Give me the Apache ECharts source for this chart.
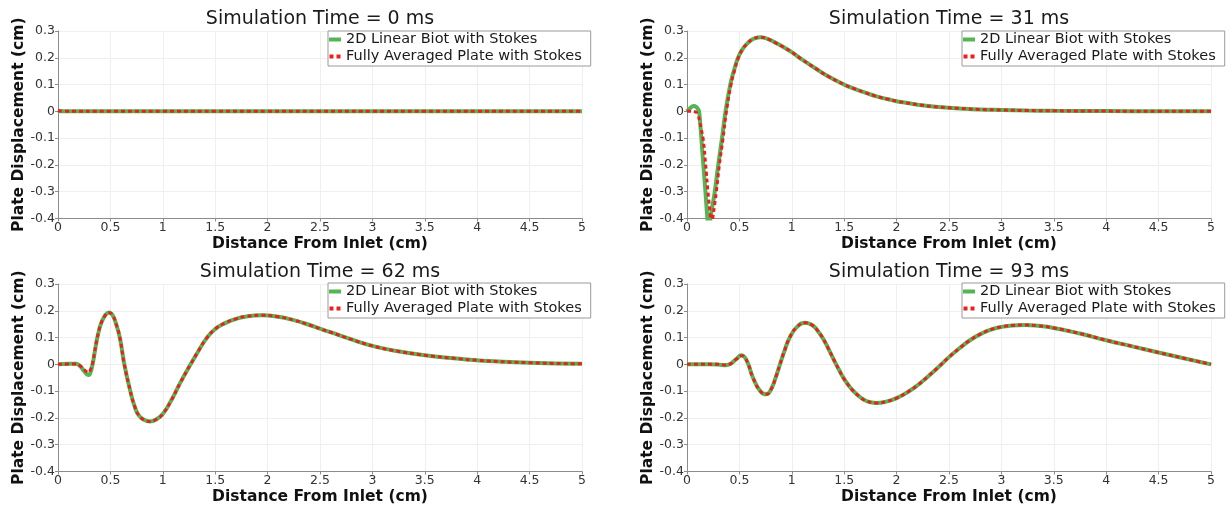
<!DOCTYPE html>
<html>
<head>
<meta charset="utf-8">
<script src="https://cdn.jsdelivr.net/npm/echarts@6/dist/echarts.min.js"></script>
<style>
  html, body { margin: 0; padding: 0; background: #ffffff; }
  #chart { width: 1232px; height: 508px; }
</style>
</head>
<body>
<div id="chart"></div>
<script>
// Plate displacement along the channel at four snapshots, two models compared.
const seriesNames = ['2D Linear Biot with Stokes', 'Fully Averaged Plate with Stokes'];
const panelTitles = ['Simulation Time = 0 ms', 'Simulation Time = 31 ms',
                     'Simulation Time = 62 ms', 'Simulation Time = 93 ms'];
const xTicks = [0, 0.5, 1, 1.5, 2, 2.5, 3, 3.5, 4, 4.5, 5];
const yTicks = [-0.4, -0.3, -0.2, -0.1, 0, 0.1, 0.2, 0.3];

// t = 0 ms
const x0 = [0, 0.05, 0.5, 1, 1.5, 2, 2.5, 3, 3.5, 4, 4.5, 5];
const biot0 = [0.002, 0, 0, 0, 0, 0, 0, 0, 0, 0, 0, 0];
const plate0 = [0.004, 0, 0, 0, 0, 0, 0, 0, 0, 0, 0, 0];

// t = 31 ms
const x31Biot = [0, 0.03, 0.064, 0.09, 0.105, 0.115, 0.126, 0.137, 0.156, 0.176, 0.195, 0.207,
                 0.215, 0.223, 0.244, 0.265, 0.298, 0.334, 0.368, 0.413, 0.45, 0.487, 0.53, 0.567,
                 0.63, 0.7, 0.79, 0.85, 0.92, 1.0, 1.1, 1.235, 1.35, 1.5, 1.6, 1.7, 1.8, 1.92,
                 2.0, 2.2, 2.4, 2.6, 2.8, 3.0, 3.25, 3.5, 4.0, 4.5, 5.0];
const biot31 = [0, 0.012, 0.02, 0.016, 0.008, 0, -0.045, -0.1, -0.2, -0.3, -0.4, -0.43,
                -0.43, -0.4, -0.35, -0.3, -0.2, -0.1, 0, 0.1, 0.155, 0.2, 0.232, 0.25,
                0.27, 0.277, 0.267, 0.255, 0.24, 0.221, 0.193, 0.158, 0.13, 0.1, 0.084, 0.07, 0.057, 0.045,
                0.038, 0.025, 0.016, 0.011, 0.007, 0.005, 0.003, 0.002, 0.001, 0, 0];
const x31Plate = [0, 0.04, 0.08, 0.1, 0.12, 0.135, 0.153, 0.178, 0.2, 0.226, 0.235, 0.245,
                  0.263, 0.28, 0.309, 0.344, 0.376, 0.42, 0.455, 0.49, 0.53, 0.567,
                  0.63, 0.7, 0.79, 0.85, 0.92, 1.0, 1.1, 1.235, 1.35, 1.5, 1.6, 1.7, 1.8, 1.92,
                  2.0, 2.2, 2.4, 2.6, 2.8, 3.0, 3.25, 3.5, 4.0, 4.5, 5.0];
const plate31 = [0, 0, -0.002, -0.01, -0.035, -0.065, -0.1, -0.2, -0.3, -0.4, -0.43, -0.4,
                 -0.35, -0.3, -0.2, -0.1, 0, 0.1, 0.155, 0.2, 0.232, 0.25,
                 0.27, 0.277, 0.267, 0.255, 0.24, 0.221, 0.193, 0.158, 0.13, 0.1, 0.084, 0.07, 0.057, 0.045,
                 0.038, 0.025, 0.016, 0.011, 0.007, 0.005, 0.003, 0.002, 0.001, 0, 0];

// t = 62 ms
const x62 = [0, 0.1, 0.17, 0.21, 0.25, 0.275, 0.293, 0.31, 0.33, 0.35, 0.37, 0.39, 0.41, 0.45,
             0.487, 0.52, 0.555, 0.59, 0.633, 0.69, 0.73, 0.77, 0.82, 0.878, 0.94, 1.0, 1.08,
             1.165, 1.265, 1.34, 1.415, 1.5, 1.6, 1.7, 1.8, 1.94, 2.1, 2.25, 2.4, 2.5, 2.6,
             2.8, 3.0, 3.2, 3.5, 3.8, 4.0, 4.5, 5.0];
const biot62 = [0, 0.002, 0.002, -0.006, -0.026, -0.037, -0.04, -0.03, 0, 0.045, 0.09, 0.125, 0.152, 0.183,
                0.194, 0.184, 0.15, 0.1, 0, -0.1, -0.155, -0.19, -0.207, -0.213, -0.205, -0.185, -0.135,
                -0.07, 0, 0.05, 0.096, 0.132, 0.155, 0.17, 0.179, 0.183, 0.178, 0.165, 0.147, 0.133, 0.12,
                0.093, 0.069, 0.052, 0.034, 0.022, 0.015, 0.006, 0.002];
const plate62 = [0, 0.001, 0.001, -0.005, -0.02, -0.028, -0.03, -0.02, 0.004, 0.047, 0.09, 0.125, 0.152, 0.183,
                 0.193, 0.184, 0.15, 0.1, 0, -0.1, -0.155, -0.19, -0.207, -0.213, -0.205, -0.185, -0.135,
                 -0.07, 0, 0.05, 0.096, 0.132, 0.155, 0.17, 0.179, 0.183, 0.178, 0.165, 0.147, 0.133, 0.12,
                 0.093, 0.069, 0.052, 0.034, 0.022, 0.015, 0.006, 0.002];

// t = 93 ms
const x93 = [0, 0.2, 0.3, 0.37, 0.42, 0.47, 0.522, 0.55, 0.585, 0.63, 0.7, 0.755, 0.8, 0.85,
             0.887, 0.93, 0.98, 1.05, 1.13, 1.2, 1.25, 1.3, 1.35, 1.4, 1.45, 1.5, 1.57, 1.65,
             1.72, 1.805, 1.9, 2.0, 2.1, 2.2, 2.3, 2.4, 2.5, 2.6, 2.7, 2.8, 2.9, 3.0, 3.1, 3.22,
             3.35, 3.5, 3.75, 4.0, 4.25, 4.5, 4.75, 5.0];
const biot93 = [0, 0, -0.001, -0.003, 0.003, 0.02, 0.034, 0.027, 0, -0.05, -0.1, -0.112, -0.095, -0.045,
                0, 0.05, 0.1, 0.14, 0.155, 0.145, 0.124, 0.095, 0.058, 0.018, -0.02, -0.055, -0.092, -0.122,
                -0.138, -0.144, -0.139, -0.126, -0.105, -0.078, -0.045, -0.01, 0.027, 0.06, 0.09, 0.113, 0.13, 0.14, 0.145, 0.147,
                0.144, 0.136, 0.115, 0.09, 0.067, 0.044, 0.022, 0];
const plate93 = [0, 0, 0, -0.002, 0.003, 0.019, 0.032, 0.026, 0, -0.05, -0.1, -0.112, -0.095, -0.045,
                 0, 0.05, 0.1, 0.14, 0.155, 0.145, 0.124, 0.095, 0.058, 0.018, -0.02, -0.055, -0.092, -0.122,
                 -0.138, -0.144, -0.139, -0.126, -0.105, -0.078, -0.045, -0.01, 0.027, 0.06, 0.09, 0.113, 0.13, 0.14, 0.145, 0.147,
                 0.144, 0.136, 0.115, 0.09, 0.067, 0.044, 0.022, 0];

const pair = (xs, ys) => xs.map((x, i) => [x, ys[i]]);

const panels = [
  { biot: pair(x0, biot0), plate: pair(x0, plate0) },
  { biot: pair(x31Biot, biot31), plate: pair(x31Plate, plate31) },
  { biot: pair(x62, biot62), plate: pair(x62, plate62) },
  { biot: pair(x93, biot93), plate: pair(x93, plate93) }
];

const FONT = 'DejaVu Sans';
const GREEN = '#55b553';
const RED = '#ec1f1f';
const plotLeft = [58, 687];
const plotTop = [31, 284];
const legendLeft = [328, 962];
const legendTop = [31, 283];

const grid = [], xAxis = [], yAxis = [], series = [], title = [], legend = [];

panels.forEach((p, i) => {
  const col = i % 2, row = Math.floor(i / 2);
  grid.push({ left: plotLeft[col], top: plotTop[row], width: 524, height: 187.5 });
  title.push({
    text: panelTitles[i], left: plotLeft[col] + 262, top: plotTop[row] - 21, textAlign: 'center', padding: 0,
    textStyle: { fontFamily: FONT, fontSize: 19, fontWeight: 'normal', color: '#1a1a1a' }
  });
  xAxis.push({
    type: 'value', gridIndex: i, min: xTicks[0], max: xTicks[xTicks.length - 1],
    interval: xTicks[1] - xTicks[0],
    name: 'Distance From Inlet (cm)', nameLocation: 'middle', nameGap: 17,
    nameTextStyle: { fontFamily: FONT, fontSize: 15.5, fontWeight: 'bold', color: '#111' },
    axisLine: { show: true, onZero: false, lineStyle: { color: '#8c8c8c', width: 1 } },
    axisTick: { show: true, length: 3, lineStyle: { color: '#8c8c8c' } },
    axisLabel: { fontFamily: FONT, fontSize: 12.5, color: '#333', margin: 3 },
    splitLine: { show: true, lineStyle: { color: '#efefef', width: 1 } }
  });
  yAxis.push({
    type: 'value', gridIndex: i, min: yTicks[0], max: yTicks[yTicks.length - 1],
    interval: 0.1,
    name: 'Plate Displacement (cm)', nameLocation: 'middle', nameGap: 31,
    nameTextStyle: { fontFamily: FONT, fontSize: 15.5, fontWeight: 'bold', color: '#111' },
    axisLine: { show: true, onZero: false, lineStyle: { color: '#8c8c8c', width: 1 } },
    axisTick: { show: true, length: 3, lineStyle: { color: '#8c8c8c' } },
    axisLabel: { fontFamily: FONT, fontSize: 12.5, color: '#333', margin: 3 },
    splitLine: { show: true, lineStyle: { color: '#efefef', width: 1 } }
  });
  series.push({
    name: seriesNames[0], type: 'line', xAxisIndex: i, yAxisIndex: i, data: p.biot,
    showSymbol: false, symbol: 'none', smooth: 0.5, clip: true, color: GREEN,
    lineStyle: { color: GREEN, width: 4 }, itemStyle: { color: GREEN }, z: 2
  });
  series.push({
    name: seriesNames[1], type: 'line', xAxisIndex: i, yAxisIndex: i, data: p.plate,
    showSymbol: false, symbol: 'none', smooth: 0.5, clip: true, color: RED,
    lineStyle: { color: RED, width: 3, type: [4, 3], cap: 'butt' }, itemStyle: { color: RED }, z: 3
  });
  legend.push({
    left: legendLeft[col], top: legendTop[row], orient: 'vertical',
    padding: [1, 9, 2, 1], itemGap: 2, itemWidth: 12, itemHeight: 4, itemTextGap: 1,
    backgroundColor: '#ffffff', borderColor: '#9a9a9a', borderWidth: 1, borderRadius: 0,
    selectedMode: false,
    textStyle: { fontFamily: FONT, fontSize: 14.5, color: '#1a1a1a' },
    data: [
      { name: seriesNames[0], icon: 'rect' },
      { name: seriesNames[1], icon: 'path://M0,0h4v4h-4zM7,0h4v4h-4z' }
    ]
  });
});

const chart = echarts.init(document.getElementById('chart'), null, { renderer: 'canvas' });
chart.setOption({
  animation: false,
  backgroundColor: '#ffffff',
  title, legend, grid, xAxis, yAxis, series
});
</script>
</body>
</html>
